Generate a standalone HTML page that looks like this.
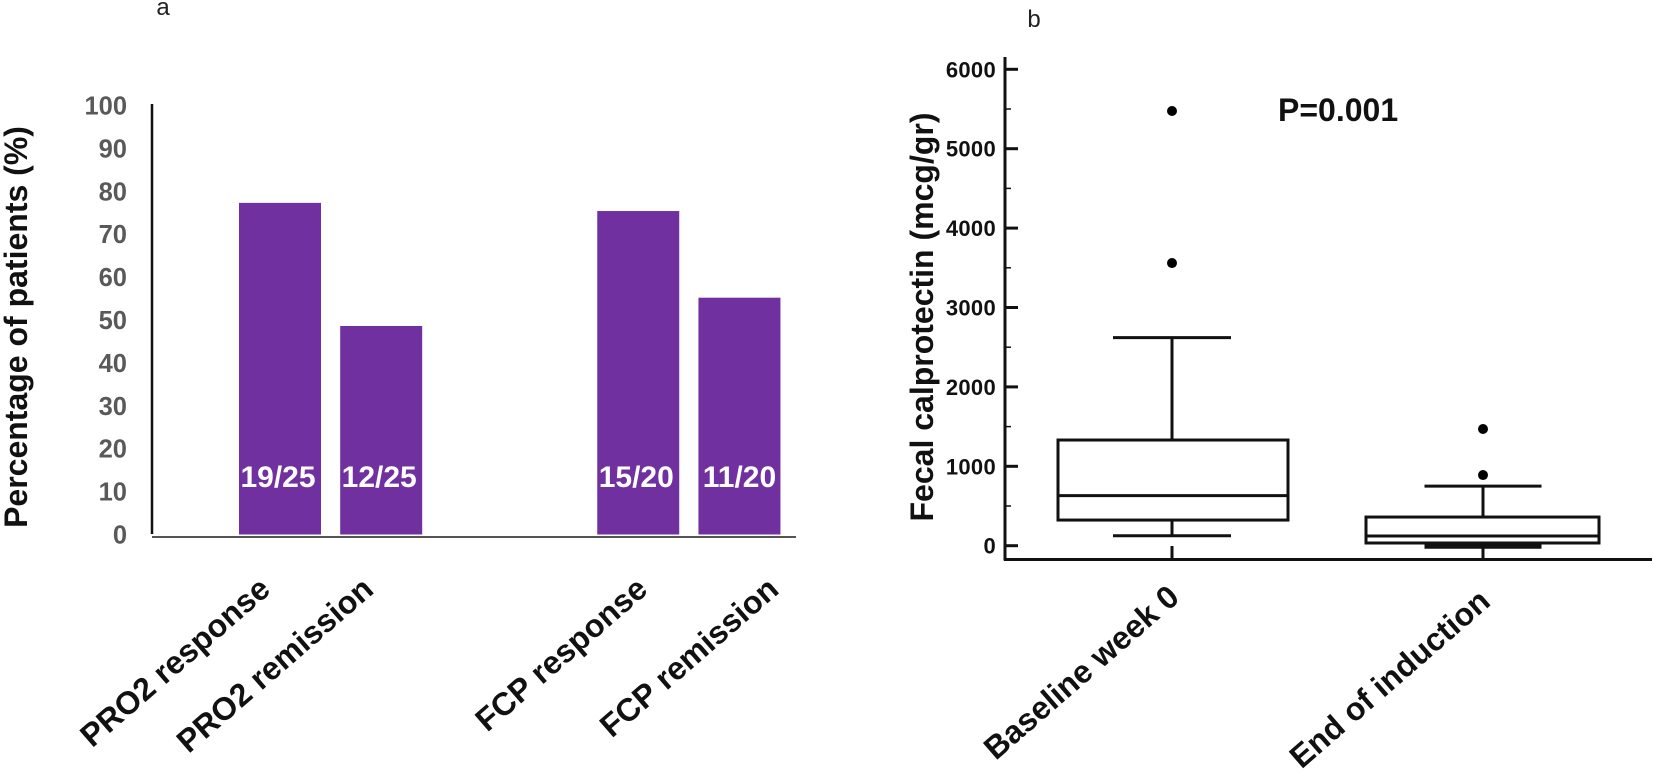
<!DOCTYPE html>
<html lang="en">
<head>
<meta charset="utf-8">
<title>Response rates and fecal calprotectin</title>
<style>
html,body{margin:0;padding:0;background:#fff;}
svg{display:block;font-family:"Liberation Sans",Arial,sans-serif;}
</style>
</head>
<body>
<svg id="fig" xmlns="http://www.w3.org/2000/svg" width="1654" height="775" viewBox="0 0 1654 775">
  <rect width="1654" height="775" fill="#fff"/>
  <text x="163" y="15" font-size="24" fill="#222" text-anchor="middle">a</text>
  <text x="1034" y="27" font-size="24" fill="#222" text-anchor="middle">b</text>
  <text transform="translate(27,327) rotate(-90)" font-size="32" font-weight="bold" fill="#111" text-anchor="middle">Percentage of patients (%)</text>
  <text transform="translate(933,317) rotate(-90)" font-size="32" font-weight="bold" fill="#111" text-anchor="middle">Fecal calprotectin (mcg/gr)</text>
  <text x="1278" y="121" font-size="32" font-weight="bold" fill="#111">P=0.001</text>
  <g id="left-chart"></g>
  <g id="right-chart"></g>
</svg>
<script>
// Panel a data
const barCategories = ['PRO2 response', 'PRO2 remission', 'FCP response', 'FCP remission'];
const barValues = [77.3, 48.6, 75.4, 55.2];
const barCounts = ['19/25', '12/25', '15/20', '11/20'];
const barSlots = [0, 1, 3.54, 4.54];
const percentTicks = [0, 10, 20, 30, 40, 50, 60, 70, 80, 90, 100];

// Panel b data
const boxCategories = ['Baseline week 0', 'End of induction'];
const boxLowerWhisker = [126, -10];
const boxQ1 = [323, 34];
const boxMedian = [630, 122];
const boxQ3 = [1331, 361];
const boxUpperWhisker = [2620, 750];
const boxOutliers = [[3560, 5475], [890, 1470]];
const calprotectinTicks = [0, 1000, 2000, 3000, 4000, 5000, 6000];
const calprotectinMinorTicks = [500, 1500, 2500, 3500, 4500, 5500];

const NS = 'http://www.w3.org/2000/svg';
function make(parent, tag, attrs, text) {
  const el = document.createElementNS(NS, tag);
  for (const k in attrs) el.setAttribute(k, attrs[k]);
  if (text !== undefined) el.textContent = text;
  parent.appendChild(el);
  return el;
}

// Panel a axis functions
const left = document.getElementById('left-chart');
const yPct = v => 534.5 - v * 4.29;
const xBar = s => 239 + s * 101.2;
const barWidth = 82;
const labelShift = i => (i < 2 ? -8 + i * 2 : 11 + (i - 2) * 30);
const countShift = i => (i === 3 ? 2 : 0);

let el = make(left, 'line', {x1: 152, x2: 152, y1: 104, y2: 534, stroke: '#111', 'stroke-width': 2.5});


el = make(left, 'line', {x1: 152, x2: 796, y1: 537, y2: 537, stroke: '#555', 'stroke-width': 2});



percentTicks.forEach(t => {
  const lab = make(left, 'text', {x: 127, y: yPct(t) + 9, 'font-size': 25.5, 'font-weight': 'bold', fill: '#595959', 'text-anchor': 'end'}, String(t));
  
  
});

barCategories.forEach((c, i) => {
  const x = xBar(barSlots[i]);
  const top = yPct(barValues[i]);
  const bar = make(left, 'rect', {x: x, y: top, width: barWidth, height: yPct(0) - top, fill: '#7030A0'});
  
  
  const cnt = make(left, 'text', {x: x + barWidth / 2 - 2 + countShift(i), y: 487, 'font-size': 30, 'font-weight': 'bold', fill: '#fff', 'text-anchor': 'middle'}, barCounts[i]);
  
  
  const ex = x + barWidth / 2 + labelShift(i);
  const lab = make(left, 'text', {transform: 'translate(' + ex + ',592) rotate(-41)', 'font-size': 32, 'font-weight': 'bold', fill: '#111', 'text-anchor': 'end'}, c);
  
  
});

// Panel b axis functions
const right = document.getElementById('right-chart');
const yCal = v => 545.7 - v * 0.0794;
const boxLeft = [1058, 1366];
const boxRight = [1288, 1599];
const boxCenter = [1172, 1483];
const capHalf = [59, 58.5];

el = make(right, 'line', {x1: 1005, x2: 1005, y1: 57, y2: 560.5, stroke: '#111', 'stroke-width': 3});


el = make(right, 'line', {x1: 1004, x2: 1652, y1: 559.5, y2: 559.5, stroke: '#111', 'stroke-width': 3});



calprotectinTicks.forEach(t => {
  const tk = make(right, 'line', {x1: 1005, x2: 1018, y1: yCal(t), y2: yCal(t), stroke: '#111', 'stroke-width': 3});
  
  
  const lab = make(right, 'text', {x: 996, y: yCal(t) + 8, 'font-size': 22, 'font-weight': 'bold', fill: '#111', 'text-anchor': 'end', 'letter-spacing': '0.3'}, String(t));
  
  
});
calprotectinMinorTicks.forEach(t => {
  const tk = make(right, 'line', {x1: 1005, x2: 1011, y1: yCal(t), y2: yCal(t), stroke: '#111', 'stroke-width': 1.5});
  
  
});

boxCategories.forEach((c, i) => {
  const cx = boxCenter[i];
  const seg = (name, x1, x2, y1, y2, w) => {
    const s = make(right, 'line', {x1: x1, x2: x2, y1: y1, y2: y2, stroke: '#111', 'stroke-width': w});
    
    
  };
  seg('x-tick', cx, cx, 546, 559.5, 3);
  seg('upper-whisker', cx, cx, yCal(boxQ3[i]), yCal(boxUpperWhisker[i]), 3);
  seg('upper-whisker-cap', cx - capHalf[i], cx + capHalf[i], yCal(boxUpperWhisker[i]), yCal(boxUpperWhisker[i]), 3);
  seg('lower-whisker', cx, cx, yCal(boxQ1[i]), yCal(boxLowerWhisker[i]), 3);
  seg('lower-whisker-cap', cx - capHalf[i], cx + capHalf[i], yCal(boxLowerWhisker[i]), yCal(boxLowerWhisker[i]), i === 1 ? 4.5 : 3);
  const box = make(right, 'rect', {x: boxLeft[i], y: yCal(boxQ3[i]), width: boxRight[i] - boxLeft[i], height: yCal(boxQ1[i]) - yCal(boxQ3[i]), fill: 'none', stroke: '#111', 'stroke-width': 3});
  
  
  seg('median-line', boxLeft[i], boxRight[i], yCal(boxMedian[i]), yCal(boxMedian[i]), 3);
  boxOutliers[i].forEach(v => {
    const o = make(right, 'circle', {cx: cx, cy: yCal(v), r: 5, fill: '#000'});
    
    
  });
  const lab = make(right, 'text', {transform: 'translate(' + (cx + 9) + ',' + (600 + i * 4) + ') rotate(-41)', 'font-size': 32, 'font-weight': 'bold', fill: '#111', 'text-anchor': 'end'}, c);
  
  
});
</script>
</body>
</html>
